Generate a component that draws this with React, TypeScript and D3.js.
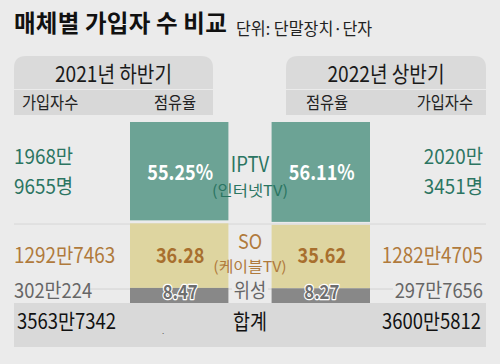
import React from 'react';
import * as d3 from 'd3';

const periods = ['2021년 하반기', '2022년 상반기'];
const mediaTypes = ['IPTV', 'SO', '위성'];
const mediaSubLabels = ['(인터넷TV)', '(케이블TV)', ''];
const shares2021 = [55.25, 36.28, 8.47];
const shares2022 = [56.11, 35.62, 8.27];
const shareLabels2021 = ['55.25%', '36.28', '8.47'];
const shareLabels2022 = ['56.11%', '35.62', '8.27'];
const subs2021 = [['1968만', '9655명'], ['1292만7463'], ['302만224']];
const subs2022 = [['2020만', '3451명'], ['1282만4705'], ['297만7656']];
const totals = ['3563만7342', '3600만5812'];

const W = 500;
const H = 364;
const FONT = '"Noto Sans CJK KR", "Noto Sans", sans-serif';
const barColors = ['#6ca395', '#ded5a0', '#888888'];
const textColors = ['#2b7562', '#b07a3c', '#666666'];
const shareText = ['#ffffff', '#a86f2e', '#6e6e6e'];

// condensed text: scale glyphs horizontally around the anchor point
const T = ({ x, y, sx = 0.85, anchor = 'start', children, ...rest }: any) => (
  <text transform={`translate(${x},${y}) scale(${sx},1)`} textAnchor={anchor} {...rest}>
    {children}
  </text>
);

const App = () => {
  const y = d3.scaleLinear().domain([0, 100]).range([303, 125]);
  const gap = 3;
  const x = d3.scaleBand().domain(periods).range([130, 370]).paddingInner(0.305);
  const bw = x.bandwidth();

  const stackBars = (vals: number[]) => {
    const out: { y0: number; y1: number }[] = [];
    let acc = 100;
    vals.forEach((v, i) => {
      const top = y(acc);
      const bot = y(acc - v);
      out.push({ y0: i === 0 ? top - gap : top, y1: i === 0 ? bot - gap : bot });
      acc -= v;
    });
    return out;
  };
  const bars = [stackBars(shares2021), stackBars(shares2022)];
  const shareLabels = [shareLabels2021, shareLabels2022];
  const subs = [subs2021, subs2022];

  const rowBase = [[164, 194], [263], [298]];
  const rowSize = [20.5, 21, 20];
  const rowSx = [0.92, 0.9, 0.92];
  const shareBase = [180, 263, 299];
  const shareSize = [21, 21, 19.5];
  const mediaBase = [172, 249, 298];
  const mediaSize = [21, 20.5, 20];
  const subBase = [196, 272];
  const subSize = [15, 14.5];

  const panels = [
    { x0: 14, x1: 213 },
    { x0: 286, x1: 486 },
  ];

  const topPath = (x0: number, x1: number, y0: number, y1: number, r: number) =>
    `M${x0},${y1}V${y0 + r}Q${x0},${y0} ${x0 + r},${y0}H${x1 - r}Q${x1},${y0} ${x1},${y0 + r}V${y1}Z`;

  return (
    <svg width={W} height={H} style={{ position: 'absolute', left: 0, top: 0 }} fontFamily={FONT}>
      <rect width={W} height={H} fill="#ebebeb" />
      <text x={14} y={32} fontSize={23.5} fontWeight="bold" fill="#111" letterSpacing={0.2}>
        매체별 가입자 수 비교
      </text>
      <T x={236} y={35} sx={0.98} fontSize={16.5} fill="#222">
        단위: 단말장치·단자
      </T>

      {panels.map((p, i) => (
        <g key={i}>
          <path d={topPath(p.x0, p.x1, 56, 89, 12)} fill="#dadada" />
          <rect x={p.x0} y={90} width={p.x1 - p.x0} height={25} fill="#d8d8d8" />
          <T x={(p.x0 + p.x1) / 2} y={82} sx={0.87} anchor="middle" fontSize={22} fill="#1a1a1a">
            {periods[i]}
          </T>
        </g>
      ))}
      <T x={22} y={109} sx={0.9} fontSize={17} fill="#222">가입자수</T>
      <T x={175} y={109} sx={0.9} anchor="middle" fontSize={17} fill="#222">점유율</T>
      <T x={327} y={109} sx={0.9} anchor="middle" fontSize={17} fill="#222">점유율</T>
      <T x={473} y={109} sx={0.9} anchor="end" fontSize={17} fill="#222">가입자수</T>

      <line x1={14} x2={486} y1={224} y2={224} stroke="#d6d6d6" />
      {[[90, 130], [213, 232], [268, 287], [369, 393]].map(([a, b], i) => (
        <line key={i} x1={a} x2={b} y1={289} y2={289} stroke="#d2d2d2" />
      ))}

      <rect x={14} y={303} width={472} height={44} fill="#d9d9d9" />

      {periods.map((p, pi) => (
        <g key={p}>
          {bars[pi].map((b, i) => (
            <rect key={i} x={x(p)} y={b.y0} width={bw} height={b.y1 - b.y0} fill={barColors[i]} />
          ))}
          {bars[pi].map((b, i) => (
            <T
              key={'t' + i}
              x={(x(p) as number) + bw / 2 + 1}
              y={shareBase[i]}
              sx={0.86}
              anchor="middle"
              fontSize={shareSize[i]}
              fontWeight="bold"
              fill={shareText[i]}
              stroke={i === 2 ? '#ffffff' : 'none'}
              strokeWidth={i === 2 ? 2.5 : 0}
              paintOrder="stroke"
              strokeLinejoin="round"
            >
              {shareLabels[pi][i]}
            </T>
          ))}
        </g>
      ))}

      {mediaTypes.map((m, i) => (
        <g key={m}>
          <T x={250} y={mediaBase[i]} sx={0.88} anchor="middle" fontSize={mediaSize[i]} fill={textColors[i]}>
            {m}
          </T>
          {mediaSubLabels[i] && (
            <T x={250} y={subBase[i]} sx={1.1} anchor="middle" fontSize={subSize[i]} fill={textColors[i]}>
              {mediaSubLabels[i]}
            </T>
          )}
        </g>
      ))}

      {subs.map((col, ci) =>
        col.map((lines, i) =>
          lines.map((s, li) => (
            <T
              key={`${ci}-${i}-${li}`}
              x={ci === 0 ? 14 : 483}
              y={rowBase[i][li]}
              sx={rowSx[i]}
              anchor={ci === 0 ? 'start' : 'end'}
              fontSize={rowSize[i]}
              fill={textColors[i]}
            >
              {s}
            </T>
          ))
        )
      )}

      <T x={17} y={329} sx={0.88} fontSize={21} fill="#111">{totals[0]}</T>
      <T x={250} y={329} sx={0.88} anchor="middle" fontSize={21} fill="#111">합계</T>
      <T x={481} y={329} sx={0.88} anchor="end" fontSize={21} fill="#111">{totals[1]}</T>
      <text x={162} y={334} fontSize={8} fill="#555">.</text>
    </svg>
  );
};

export default App;
